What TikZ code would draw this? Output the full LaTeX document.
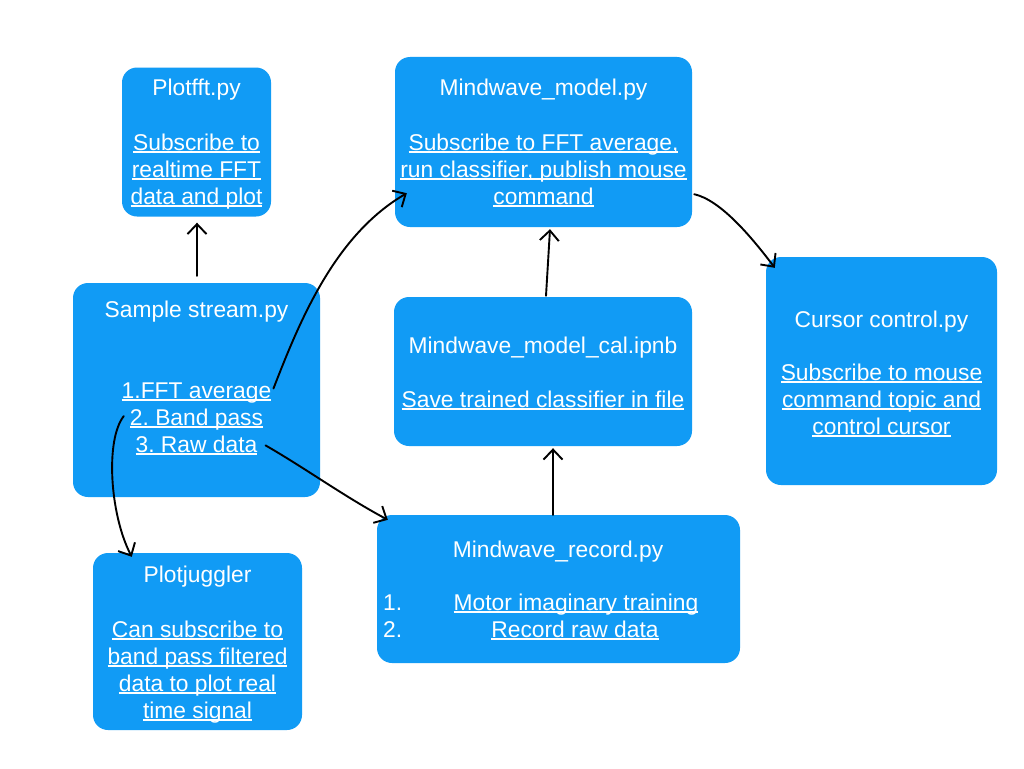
\documentclass[tikz,border=0pt]{standalone}
\usepackage{fontspec}
\setmainfont{Liberation Sans}
\usetikzlibrary{arrows.meta,calc}
\definecolor{boxblue}{RGB}{17,155,245}
\frenchspacing
\newcommand{\fs}{\fontsize{22.8pt}{27.3pt}\selectfont\frenchspacing}
\newcommand{\ulx}[1]{\leavevmode\setbox0=\hbox{#1}\rlap{\vrule height -1.4pt depth 3.3pt width \wd0}\box0}
\tikzset{
  box/.style={fill=boxblue, draw=none, rounded corners=15pt, inner sep=0pt},
  txt/.style={text=white, font=\fs, inner sep=0pt, anchor=base},
  arr/.style={draw=black, line width=1.9pt, line cap=round, -{Straight Barb[length=10pt,width=19pt,line width=1.9pt]}}
}
\begin{document}
\begin{tikzpicture}[x=1pt,y=-1pt]
\useasboundingbox (0,0) rectangle (1024,768);
\fill[white] (0,0) rectangle (1024,768);

% boxes
\node[box, minimum width=149pt, minimum height=149pt] (plotfft) at (196.5,142) {};
\node[box, minimum width=297pt, minimum height=170pt] (model) at (543.5,142) {};
\node[box, minimum width=247pt, minimum height=214pt] (ss) at (196.5,390) {};
\node[box, minimum width=298pt, minimum height=149pt] (cal) at (543,371.5) {};
\node[box, minimum width=231pt, minimum height=228pt] (cursor) at (881.5,371) {};
\node[box, minimum width=209pt, minimum height=177pt] (pj) at (197.5,641.5) {};
\node[box, minimum width=363pt, minimum height=148pt] (rec) at (558.5,589) {};

% Plotfft text
\node[txt] (pf0) at (196.5,95) {Plotfft.py};
\node[txt] (pf1) at (196.5,150) {\ulx{Subscribe to}};
\node[txt] (pf2) at (196.5,177) {\ulx{realtime FFT}};
\node[txt] (pf3) at (196.5,204) {\ulx{data and plot}};

% Mindwave_model text
\node[txt] (m0) at (543.5,95) {Mindwave\_model.py};
\node[txt] (m1) at (543.5,150) {\ulx{Subscribe to FFT average,}};
\node[txt] (m2) at (543.5,177) {\ulx{run classifier, publish mouse}};
\node[txt] (m3) at (543.5,204) {\ulx{command}};

% Sample stream text
\node[txt] (s0) at (196.5,317) {Sample stream.py};
\node[txt] (fft) at (196.5,398) {\ulx{1.FFT average}};
\node[txt] (band) at (196.5,425) {\ulx{2. Band pass}};
\node[txt] (raw) at (196.5,452) {\ulx{3. Raw data}};

% Mindwave_model_cal text
\node[txt] (c0) at (543,353) {Mindwave\_model\_cal.ipnb};
\node[txt] (c1) at (543,407) {\ulx{Save trained classifier in file}};

% Cursor control text
\node[txt] (cu0) at (881.5,327) {Cursor control.py};
\node[txt] (cu1) at (881.5,380) {\ulx{Subscribe to mouse}};
\node[txt] (cu2) at (881.5,407) {\ulx{command topic and}};
\node[txt] (cu3) at (881.5,434) {\ulx{control cursor}};

% Plotjuggler text
\node[txt] (pj0) at (197.5,582) {Plotjuggler};
\node[txt] (pj1) at (197.5,637) {\ulx{Can subscribe to}};
\node[txt] (pj2) at (197.5,664) {\ulx{band pass filtered}};
\node[txt] (pj3) at (197.5,691) {\ulx{data to plot real}};
\node[txt] (pj4) at (197.5,718) {\ulx{time signal}};

% Mindwave_record text
\node[txt] (r0) at (558,557) {Mindwave\_record.py};
\node[txt, anchor=base west] (rn1) at (383,610) {1.};
\node[txt] (r1) at (576,610) {\ulx{Motor imaginary training}};
\node[txt, anchor=base west] (rn2) at (383,637) {2.};
\node[txt] (r2) at (575,637) {\ulx{Record raw data}};

% connectors
\draw[arr] ($(ss.north)+(0.5,-7)$) -- ($(plotfft.south)+(0.5,6)$);
\draw[arr] ($(fft.east)+(2,-4)$) .. controls (300,320) and (335,235) .. ($(model.south west)+(12,-34)$);
\draw[arr] ($(band.west)+(-6,-3)$) .. controls (105,440) and (110,515) .. ($(pj.north west)+(39,4)$);
\draw[arr] ($(raw.east)+(8,0)$) .. controls (305,468) and (345,497) .. ($(rec.north west)+(11,5)$);
\draw[arr] ($(rec.north)+(-5.5,0)$) -- ($(cal.south)+(10,2)$);
\draw[arr] ($(cal.north)+(3,-1)$) -- ($(model.south)+(6.5,2)$);
\draw[arr] ($(model.south east)+(2,-33)$) .. controls (720,200) and (750,235) .. ($(cursor.north west)+(9,11)$);
\end{tikzpicture}
\end{document}
